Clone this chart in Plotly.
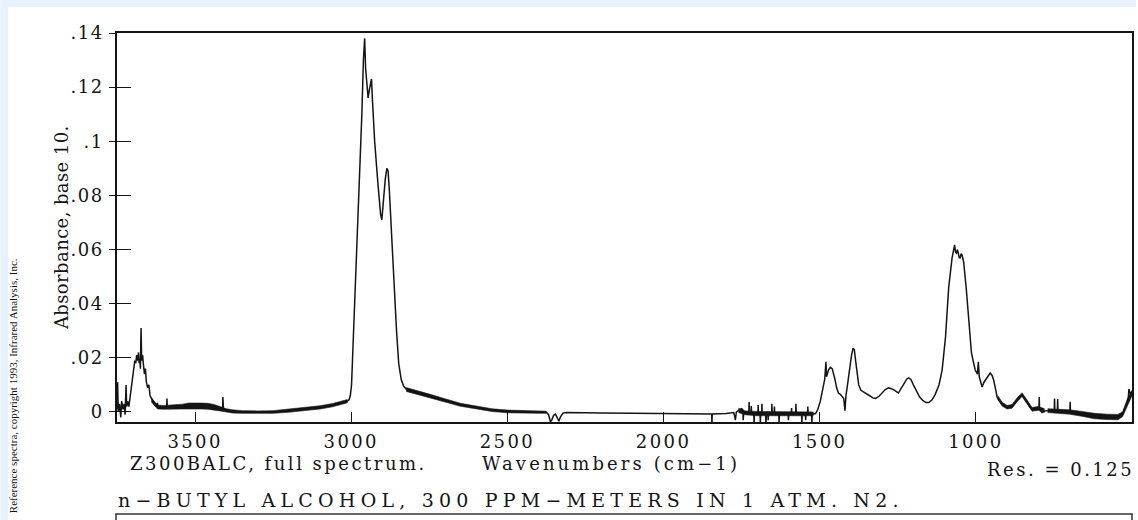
import plotly.graph_objects as go

# ---------------- data (wavenumber cm-1, absorbance) ----------------
REGION_OH = [
    (3750, 0.0010), (3748, 0.0110), (3746, 0.0000), (3742, 0.0030), (3738, -0.0020),
    (3735, 0.0040), (3731, 0.0010), (3727, 0.0030), (3724, -0.0010), (3721, 0.0100),
    (3719, 0.0020), (3716, 0.0040), (3712, 0.0020), (3708, 0.0060), (3704, 0.0080),
    (3700, 0.0120), (3696, 0.0160), (3693, 0.0190), (3690, 0.0180), (3687, 0.0210),
    (3684, 0.0190), (3681, 0.0220), (3679, 0.0180), (3677, 0.0200), (3675, 0.0160),
    (3673, 0.0310), (3671, 0.0190), (3668, 0.0210), (3665, 0.0170), (3662, 0.0140),
    (3659, 0.0160), (3656, 0.0110), (3652, 0.0090), (3648, 0.0100), (3644, 0.0060),
    (3640, 0.0050),
]
REGION_BASE_HIGH = [
    (3635, 0.0040), (3625, 0.0020), (3621, 0.0033), (3617, 0.0018), (3600, 0.0017),
    (3591, 0.0017), (3590, 0.0050), (3589, 0.0017), (3570, 0.0017), (3540, 0.0020),
    (3520, 0.0022), (3500, 0.0023), (3480, 0.0022), (3460, 0.0021), (3440, 0.0018),
    (3420, 0.0012), (3412, 0.0010), (3411, 0.0055), (3409, 0.0008), (3400, 0.0006),
    (3380, 0.0002), (3350, 0.0000), (3300, -0.0001), (3250, 0.0000), (3200, 0.0005),
    (3150, 0.0011), (3100, 0.0017), (3060, 0.0025), (3030, 0.0035), (3012, 0.0040),
]
REGION_CH = [
    (3007, 0.0045), (3003, 0.0060), (2999, 0.0100), (2995, 0.0220), (2988, 0.0450),
    (2980, 0.0660), (2973, 0.0830), (2966, 0.1100), (2961, 0.1300), (2957, 0.1380),
    (2954, 0.1270), (2950, 0.1200), (2946, 0.1160), (2942, 0.1190), (2938, 0.1220),
    (2935, 0.1230), (2932, 0.1150), (2925, 0.1000), (2915, 0.0850), (2906, 0.0730),
    (2902, 0.0710), (2897, 0.0780), (2891, 0.0860), (2886, 0.0900), (2882, 0.0890),
    (2878, 0.0820), (2870, 0.0620), (2862, 0.0460), (2855, 0.0300), (2848, 0.0180),
    (2840, 0.0120), (2832, 0.0095), (2824, 0.0085),
]
REGION_BASE_MID = [
    (2815, 0.0082), (2790, 0.0073), (2750, 0.0060), (2700, 0.0043), (2650, 0.0026),
    (2600, 0.0016), (2550, 0.0007), (2500, 0.0002), (2450, 0.0000), (2400, -0.0001),
    (2375, -0.0001),
]
REGION_CO2 = [
    (2368, -0.0010), (2362, -0.0036), (2358, -0.0030), (2352, -0.0012), (2346, -0.0008),
    (2340, -0.0020), (2335, -0.0034), (2330, -0.0018), (2322, -0.0004), (2312, -0.0002),
]
REGION_BASE_LOW = [
    (2300, -0.0002), (2200, -0.0004), (2100, -0.0005), (2000, -0.0006), (1900, -0.0007),
    (1846, -0.0007), (1845, -0.0040), (1844, -0.0007), (1800, -0.0006), (1775, -0.0002),
    (1770, -0.0030), (1767, -0.0001), (1757, 0.0008), (1750, 0.0012), (1746, 0.0008),
    (1745, -0.0030), (1743, 0.0004), (1736, -0.0004),
]
REGION_NOISY = [
    (1727, -0.0006), (1726, 0.0037), (1725, -0.0006), (1720, -0.0006), (1719, 0.0022),
    (1718, -0.0006), (1711, -0.0006), (1710, -0.0048), (1709, -0.0006), (1698, -0.0006),
    (1697, 0.0026), (1696, -0.0006), (1691, -0.0008), (1690, -0.0040), (1689, -0.0008),
    (1686, -0.0008), (1685, 0.0030), (1684, -0.0008), (1673, -0.0008), (1672, -0.0050),
    (1671, -0.0008), (1666, -0.0008), (1665, -0.0030), (1664, -0.0008), (1654, -0.0008),
    (1653, 0.0030), (1652, -0.0008), (1646, -0.0008), (1645, 0.0020), (1644, -0.0008),
    (1631, -0.0008), (1630, -0.0040), (1629, -0.0008), (1601, -0.0008), (1600, -0.0030),
    (1599, -0.0008), (1591, -0.0008), (1590, 0.0015), (1589, -0.0008), (1577, -0.0008),
    (1576, 0.0030), (1575, -0.0008), (1558, -0.0008), (1557, -0.0040), (1556, -0.0008),
    (1546, -0.0008), (1545, -0.0030), (1544, -0.0008), (1539, -0.0008), (1538, 0.0020),
    (1537, -0.0008), (1526, -0.0008), (1525, -0.0040), (1524, -0.0008), (1513, -0.0006),
]
REGION_FINGER = [
    (1506, 0.0010), (1498, 0.0040), (1490, 0.0080), (1484, 0.0120), (1480, 0.0185),
    (1478, 0.0130), (1472, 0.0155), (1466, 0.0165), (1460, 0.0160), (1455, 0.0140),
    (1451, 0.0120), (1446, 0.0090), (1440, 0.0070), (1434, 0.0065), (1428, 0.0055),
    (1423, 0.0050), (1419, 0.0005), (1416, 0.0060), (1411, 0.0100), (1405, 0.0160),
    (1398, 0.0210), (1393, 0.0236), (1389, 0.0230), (1385, 0.0190), (1380, 0.0140),
    (1375, 0.0100), (1368, 0.0080), (1360, 0.0075), (1350, 0.0068), (1340, 0.0060),
    (1330, 0.0052), (1321, 0.0050), (1310, 0.0058), (1300, 0.0072), (1290, 0.0083),
    (1280, 0.0089), (1270, 0.0086), (1260, 0.0080), (1248, 0.0070), (1240, 0.0085),
    (1230, 0.0105), (1221, 0.0122), (1215, 0.0126), (1208, 0.0120), (1200, 0.0100),
    (1190, 0.0075), (1180, 0.0055), (1170, 0.0043), (1160, 0.0035), (1151, 0.0035),
    (1140, 0.0045), (1130, 0.0065), (1118, 0.0100), (1108, 0.0155), (1097, 0.0278),
    (1087, 0.0460), (1076, 0.0570), (1068, 0.0617), (1065, 0.0590), (1062, 0.0587),
    (1059, 0.0600), (1057, 0.0590), (1053, 0.0570), (1050, 0.0570), (1047, 0.0585),
    (1044, 0.0580), (1039, 0.0554), (1031, 0.0460), (1023, 0.0340), (1014, 0.0218),
    (1007, 0.0180), (1002, 0.0155), (995, 0.0140), (992, 0.0185), (989, 0.0130),
    (984, 0.0110), (980, 0.0092), (974, 0.0110), (969, 0.0118), (961, 0.0135),
    (954, 0.0144), (948, 0.0135), (943, 0.0118), (937, 0.0085), (932, 0.0055),
    (925, 0.0042), (916, 0.0030), (900, 0.0018), (884, 0.0020), (868, 0.0044),
    (860, 0.0058), (852, 0.0063), (844, 0.0052), (836, 0.0037), (828, 0.0020),
    (820, 0.0010), (810, 0.0014), (798, 0.0012), (797, 0.0055), (796, 0.0010),
    (788, -0.0002), (777, 0.0005),
]
REGION_TAIL = [
    (770, 0.0005), (755, 0.0003), (749, 0.0003), (748, 0.0050), (747, 0.0003),
    (739, 0.0002), (738, 0.0048), (737, 0.0002), (720, 0.0000), (699, -0.0001),
    (698, 0.0038), (697, -0.0001), (660, -0.0007), (620, -0.0015), (580, -0.0018),
    (545, -0.0019), (530, -0.0008), (520, 0.0020), (512, 0.0050), (510, 0.0085),
    (505, 0.0065), (500, 0.0075),
]

# thickness of the noisy trace: (wavenumber, lower edge, upper edge)
NOISE_OH_SIDE = [
    (3640, 0.0037, 0.0053), (3620, 0.0011, 0.0025), (3600, 0.0010, 0.0024),
    (3580, 0.0011, 0.0025), (3560, 0.0010, 0.0026), (3540, 0.0011, 0.0029),
    (3520, 0.0011, 0.0033), (3500, 0.0012, 0.0034), (3480, 0.0011, 0.0033),
    (3460, 0.0010, 0.0032), (3440, 0.0008, 0.0028), (3420, 0.0004, 0.0020),
    (3400, 0.0000, 0.0012), (3380, -0.0004, 0.0008), (3350, -0.0005, 0.0005),
    (3300, -0.0006, 0.0004), (3250, -0.0005, 0.0005), (3200, -0.0001, 0.0011),
    (3150, 0.0005, 0.0017), (3100, 0.0011, 0.0023), (3060, 0.0019, 0.0031),
    (3030, 0.0029, 0.0041), (3012, 0.0034, 0.0046),
]
NOISE_CH_SIDE = [
    (2824, 0.0076, 0.0090), (2790, 0.0066, 0.0080), (2750, 0.0054, 0.0066),
    (2700, 0.0037, 0.0049), (2650, 0.0021, 0.0032), (2600, 0.0011, 0.0022),
    (2550, 0.0002, 0.0012), (2500, -0.0003, 0.0007), (2450, -0.0005, 0.0005),
    (2400, -0.0005, 0.0004), (2375, -0.0005, 0.0003),
]
NOISE_MID = [
    (1760, -0.0002, 0.0014), (1740, -0.0010, 0.0004), (1700, -0.0014, 0.0002),
    (1600, -0.0015, 0.0001), (1520, -0.0014, 0.0000),
]
NOISE_FINGER = [
    (930, 0.0047, 0.0061), (916, 0.0022, 0.0036), (900, 0.0011, 0.0024),
    (884, 0.0014, 0.0028), (868, 0.0038, 0.0052), (852, 0.0057, 0.0071),
    (836, 0.0030, 0.0044), (820, 0.0003, 0.0017), (800, 0.0006, 0.0020),
    (780, -0.0002, 0.0012),
]
NOISE_TAIL = [
    (770, -0.0002, 0.0012), (740, -0.0004, 0.0010), (700, -0.0008, 0.0008),
    (660, -0.0016, 0.0002), (620, -0.0025, -0.0005), (580, -0.0028, -0.0008),
    (545, -0.0029, -0.0009), (530, -0.0017, 0.0001), (515, 0.0022, 0.0048),
    (500, 0.0060, 0.0080),
]

X_TICKS = [3500, 3000, 2500, 2000, 1500, 1000]
Y_TICKS = [0, 0.02, 0.04, 0.06, 0.08, 0.10, 0.12, 0.14]
Y_TICK_TEXT = ["0", ".02", ".04", ".06", ".08", ".1", ".12", ".14"]
X_RANGE = [3750, 500]
Y_RANGE = [-0.0037, 0.14]

TITLE = "n\u2212BUTYL ALCOHOL, 300 PPM\u2212METERS IN 1 ATM. N2."
FILE_NOTE = "Z300BALC, full spectrum."
X_TITLE = "Wavenumbers (cm\u22121)"
RES_NOTE = "Res. = 0.125"
Y_TITLE = "Absorbance, base 10."
COPYRIGHT = "Reference spectra, copyright 1993, Infrared Analysis, Inc."

# ---------------- build ----------------
regions = [REGION_OH, REGION_BASE_HIGH, REGION_CH, REGION_BASE_MID, REGION_CO2,
           REGION_BASE_LOW, REGION_NOISY, REGION_FINGER, REGION_TAIL]
wn = [p[0] for r in regions for p in r]
ab = [p[1] for r in regions for p in r]

W, H = 1138, 520
PL, PR, PT, PB = 117, 1134, 33, 422          # plot area in page pixels
PW, PH = PR - PL, PB - PT


def px(x):
    return (x - PL) / PW


def py(y):
    return (PB - y) / PH


def spaced(text, ls):
    return '<span style="letter-spacing:%.1fpx">%s</span>' % (ls, text)


SERIF = "DejaVu Serif"
INK = "#141414"

fig = go.Figure()
for band in [NOISE_OH_SIDE, NOISE_CH_SIDE, NOISE_MID, NOISE_FINGER, NOISE_TAIL]:
    bx = [b[0] for b in band]
    fig.add_trace(go.Scatter(x=bx, y=[b[1] for b in band], mode="lines",
                             line=dict(color=INK, width=0.6), showlegend=False,
                             hoverinfo="skip"))
    fig.add_trace(go.Scatter(x=bx, y=[b[2] for b in band], mode="lines",
                             line=dict(color=INK, width=0.6), fill="tonexty",
                             fillcolor=INK, showlegend=False, hoverinfo="skip"))

fig.add_trace(go.Scatter(x=wn, y=ab, mode="lines",
                         line=dict(color=INK, width=1.5), showlegend=False,
                         hoverinfo="skip"))
# invisible helper so the inner-tick overlay axis is drawn
fig.add_trace(go.Scatter(x=[wn[0]], y=[ab[0]], yaxis="y2", mode="markers",
                         marker=dict(opacity=0), showlegend=False, hoverinfo="skip"))

fig.update_layout(
    width=W, height=H,
    margin=dict(l=PL, r=W - PR, t=PT, b=H - PB, pad=0),
    paper_bgcolor="white", plot_bgcolor="white",
    xaxis=dict(range=X_RANGE, tickvals=X_TICKS,
               ticktext=[spaced(str(v), 2.4) for v in X_TICKS],
               ticks="inside", ticklen=10, tickwidth=1.4, tickcolor=INK,
               showline=True, linecolor=INK, linewidth=1.5, mirror=True,
               showgrid=False, zeroline=False,
               tickfont=dict(family=SERIF, size=18, color=INK),
               ticklabelstandoff=3),
    yaxis=dict(range=Y_RANGE, tickvals=Y_TICKS,
               ticktext=[spaced(t, 1.5) for t in Y_TICK_TEXT],
               ticks="outside", ticklen=6, tickwidth=1.4, tickcolor=INK,
               showline=True, linecolor=INK, linewidth=1.5, mirror=True,
               showgrid=False, zeroline=False,
               tickfont=dict(family=SERIF, size=18, color=INK),
               ticklabelstandoff=2),
    yaxis2=dict(range=Y_RANGE, tickvals=Y_TICKS, overlaying="y", side="left",
                ticks="inside", ticklen=14, tickwidth=1.4, tickcolor=INK,
                showticklabels=False, showline=False, showgrid=False,
                zeroline=False),
)


def note(text, x, y, xanchor, size, ls, angle=0, family=SERIF):
    return dict(text=spaced(text, ls) if ls else text, x=px(x), y=py(y),
                xref="paper", yref="paper", textangle=angle, showarrow=False,
                xanchor=xanchor, yanchor="middle",
                font=dict(family=family, size=size, color=INK))


ann = [
    note(Y_TITLE, 62, 228, "center", 18, 0.4, angle=-90),
    note(FILE_NOTE, 128, 463, "left", 18, 2.5),
    note(X_TITLE, 612, 463, "center", 18, 3.1),
    note(RES_NOTE, 1138, 470, "right", 18, 2.5),
    note(TITLE, 116, 500, "left", 19, 5.2),
    note(COPYRIGHT, 13, 386, "center", 11, 0, angle=-90, family="Liberation Serif"),
]
fig.update_layout(annotations=ann)

BLUE = "#e8f2fd"
fig.update_layout(shapes=[
    # pale blue strips along the top and left edge of the scanned page
    dict(type="rect", xref="paper", yref="paper", x0=px(0), x1=px(W), y0=py(7), y1=py(0),
         fillcolor=BLUE, line=dict(width=0), layer="below"),
    dict(type="rect", xref="paper", yref="paper", x0=px(0), x1=px(8), y0=py(H), y1=py(0),
         fillcolor=BLUE, line=dict(width=0), layer="below"),
    # box under the title
    dict(type="rect", xref="paper", yref="paper", x0=px(116), x1=px(1134),
         y0=py(540), y1=py(514), fillcolor="rgba(0,0,0,0)",
         line=dict(color="#333333", width=1.5)),
])

# the page's default 8px body margin would shift the whole figure
fig.write_html("out.html", config={"displayModeBar": False},
               post_script="document.body.style.margin='0px';")
